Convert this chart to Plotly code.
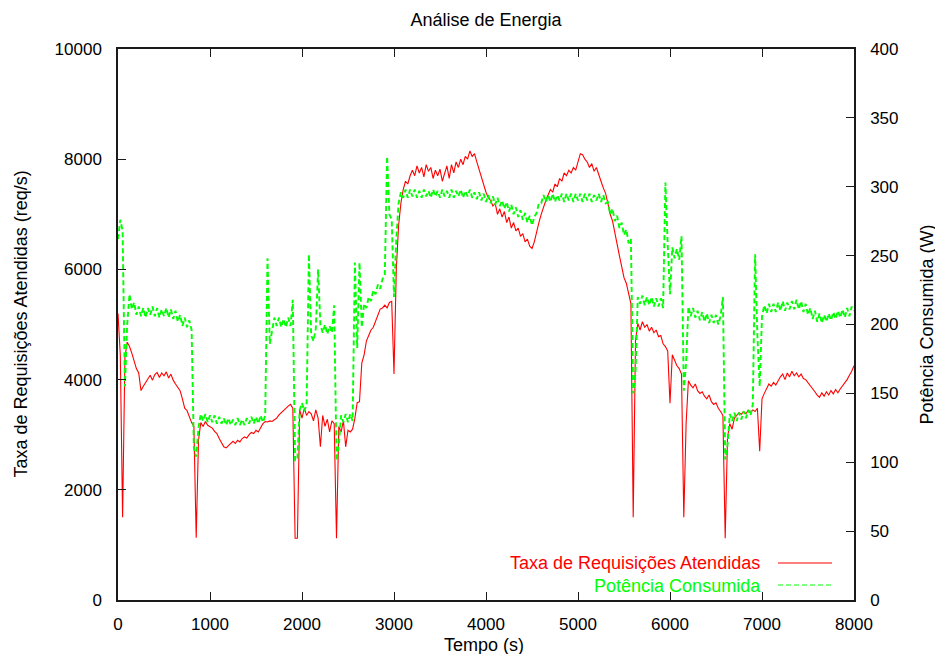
import plotly.graph_objects as go

# Sample times (s): one reading every 25 s from 0 to 8000
TIME_STEP_S = 25
tempo_s = list(range(0, 8001, TIME_STEP_S))

# Taxa de Requisições Atendidas (req/s)
taxa_req = [
    5200, 4450, 1500, 4400, 4680, 4600, 4480, 4350, 4200, 4120, 3800, 3880, 3950, 4020, 4080, 3990, 4090, 4130, 4040, 4120,
    4070, 4140, 4030, 4100, 3990, 3920, 3860, 3800, 3650, 3480, 3440, 3320, 3220, 3150, 1130, 2900, 3220, 3150, 3240, 3170,
    3150, 3120, 3060, 3020, 2930, 2860, 2780, 2760, 2800, 2830, 2880, 2840, 2900, 2870, 2930, 2960, 2940, 3000, 3040, 3020,
    3080, 3050, 3120, 3200, 3240, 3230, 3250, 3240, 3270, 3300, 3360, 3400, 3450, 3480, 3520, 3550, 3480, 1120, 1120, 3450,
    3300, 3480, 3350, 3420, 3380, 3250, 3450, 3300, 2780, 3350, 3150, 3280, 3050, 3250, 3200, 1120, 3150, 3050, 3250, 2780,
    3080, 3050, 3100, 3300, 3580, 3600, 4300, 4450, 4700, 4800, 4900, 4950, 5050, 5150, 5280, 5300, 5350, 5300, 5400, 5420,
    4100, 6000, 6800, 7200, 7450, 7600, 7550, 7700, 7800, 7700, 7880, 7750, 7850, 7680, 7900, 7780, 7850, 7650, 7800, 7700,
    7820, 7600, 7750, 7880, 7650, 7900, 7750, 7950, 7850, 8000, 7900, 8050, 8000, 8150, 8050, 8100, 7950, 7800, 7700, 7550,
    7400, 7300, 7250, 7150, 7200, 7000, 7100, 6950, 7050, 6850, 6950, 6750, 6850, 6700, 6750, 6600, 6650, 6500, 6550, 6420,
    6380, 6500, 6700, 6850, 7000, 7150, 7250, 7350, 7450, 7400, 7550, 7500, 7650, 7600, 7750, 7700, 7800, 7750, 7850, 7800,
    7950, 8100, 8080, 8000, 7950, 7850, 7920, 7780, 7850, 7700, 7600, 7480, 7380, 7200, 7000, 6880, 6650, 6450, 6250, 6050,
    5850, 5750, 5550, 5380, 1500, 4700, 5020, 4900, 5050, 4950, 5000, 4880, 4950, 4850, 4900, 4780, 4800, 4650, 4600, 4520,
    3570, 4450, 4350, 4250, 4200, 4100, 1500, 3200, 3980, 3900, 3850, 3920, 3800, 3750, 3780, 3700, 3650, 3720, 3600, 3550,
    3580, 3480, 3420, 3350, 1120, 2950, 3200, 3100, 3300, 3350, 3400, 3370, 3420, 3380, 3440, 3400, 3450, 3420, 3480, 2700,
    3650, 3750, 3850, 3920, 3880, 3950, 3900, 3980, 4050, 4100, 4000, 4120, 4050, 4150, 4070, 4120, 4050, 4100, 4020, 4000,
    3950, 3900, 3850, 3780, 3720, 3680, 3760, 3700, 3780, 3720, 3800, 3740, 3820, 3760, 3830, 3880, 3950, 4000, 4080, 4150,
    4250,
]

# Potência Consumida (W)
potencia_w = [
    262, 276, 268, 155, 200, 222, 211, 216, 207, 213, 206, 212, 205, 212, 207, 213, 206, 212, 205, 211,
    206, 212, 205, 211, 204, 210, 202, 207, 199, 205, 198, 203, 196, 110, 104, 125, 135, 130, 135, 129,
    134, 129, 134, 128, 133, 128, 132, 127, 132, 127, 131, 127, 132, 127, 131, 127, 132, 128, 133, 128,
    133, 128, 134, 129, 134, 248, 186, 196, 205, 199, 205, 198, 204, 198, 205, 199, 218, 101, 103, 138,
    143, 137, 142, 251, 192, 188, 197, 240, 200, 194, 200, 193, 199, 194, 214, 101, 112, 134, 129, 135,
    129, 135, 130, 245, 183, 245, 198, 215, 212, 220, 217, 225, 222, 229, 226, 233, 236, 322, 280, 276,
    220, 262, 288, 296, 292, 298, 292, 298, 293, 298, 292, 297, 292, 298, 293, 297, 292, 298, 293, 297,
    292, 298, 293, 297, 292, 298, 292, 297, 293, 298, 292, 297, 293, 298, 292, 296, 291, 296, 290, 295,
    289, 294, 288, 293, 287, 292, 286, 290, 284, 289, 282, 287, 280, 285, 278, 283, 276, 281, 274, 279,
    272, 278, 281, 288, 288, 294, 289, 294, 289, 295, 289, 294, 290, 295, 289, 295, 290, 295, 289, 295,
    290, 295, 289, 295, 290, 295, 289, 294, 290, 295, 289, 294, 288, 289, 280, 284, 275, 279, 270, 274,
    265, 269, 259, 262, 150, 165, 220, 215, 221, 214, 220, 214, 220, 213, 219, 213, 219, 212, 303, 258,
    222, 256, 248, 255, 247, 264, 152, 172, 213, 206, 212, 205, 210, 203, 209, 202, 208, 201, 207, 201,
    207, 200, 206, 220, 102, 112, 135, 130, 136, 130, 136, 131, 137, 132, 138, 134, 142, 251, 192, 155,
    206, 214, 208, 215, 209, 215, 209, 216, 210, 217, 210, 216, 211, 217, 211, 218, 211, 217, 209, 215,
    207, 212, 204, 210, 202, 208, 201, 207, 202, 208, 203, 209, 204, 210, 205, 211, 205, 212, 206, 213,
    210,
]

# Axis ticks
x_ticks = [0, 1000, 2000, 3000, 4000, 5000, 6000, 7000, 8000]
x_tick_labels = ["0", "1000", "2000", "3000", "4000", "5000", "6000", "7000", "8000"]
y1_ticks = [0, 2000, 4000, 6000, 8000, 10000]
y1_tick_labels = ["0", "2000", "4000", "6000", "8000", "10000"]
y2_ticks = [0, 50, 100, 150, 200, 250, 300, 350, 400]
y2_tick_labels = ["0", "50", "100", "150", "200", "250", "300", "350", "400"]

series_names = ["Taxa de Requisições Atendidas", "Potência Consumida"]

assert len(taxa_req) == len(tempo_s), len(taxa_req)
assert len(potencia_w) == len(tempo_s), len(potencia_w)

FONT = "Liberation Sans, Arial, Helvetica, sans-serif"
RED = "#ff0000"
GREEN = "#00ff00"
AXC = "#1a1a1a"
GREEN_DASH = "5px,3px"

fig = go.Figure()
fig.add_trace(go.Scatter(
    x=tempo_s, y=taxa_req, mode="lines", name=series_names[0],
    line=dict(color=RED, width=1.1), yaxis="y", showlegend=False,
))
fig.add_trace(go.Scatter(
    x=tempo_s, y=potencia_w, mode="lines", name=series_names[1],
    line=dict(color=GREEN, width=1.9, dash=GREEN_DASH), yaxis="y2", showlegend=False,
))

L, R, T, B = 118, 81, 49, 54
W, H = 935, 654
pw, ph = W - L - R, H - T - B

def px_x(px):
    return (px - L) / pw

def px_y(py):
    return (H - B - py) / ph

axis_common = dict(
    showgrid=False, zeroline=False, showline=True, linecolor=AXC, linewidth=1.5,
    ticks="inside", ticklen=8, tickwidth=1, tickcolor=AXC,
    tickfont=dict(family=FONT, size=17, color="black"),
)

fig.update_layout(
    width=W, height=H,
    margin=dict(l=L, r=R, t=T, b=B, autoexpand=False),
    paper_bgcolor="white", plot_bgcolor="white",
    font=dict(family=FONT, color="black"),
    title=dict(text="Análise de Energia", x=px_x(486), xref="paper", xanchor="center",
               y=1 - 20 / H, yref="container", yanchor="middle",
               font=dict(family=FONT, size=18, color="black")),
    xaxis=dict(range=[0, 8000], tickvals=x_ticks, ticktext=x_tick_labels, mirror="ticks",
               ticklabelstandoff=8, **axis_common),
    yaxis=dict(range=[0, 10000], tickvals=y1_ticks, ticktext=y1_tick_labels,
               ticklabelstandoff=11, **axis_common),
    yaxis2=dict(range=[0, 400], tickvals=y2_ticks, ticktext=y2_tick_labels,
                overlaying="y", side="right", ticklabelstandoff=11, **axis_common),
    showlegend=False,
)

# Axis titles
fig.add_annotation(text="Taxa de Requisições Atendidas (req/s)", xref="paper", yref="paper",
                   x=px_x(20), y=0.5, textangle=-90, showarrow=False,
                   xanchor="center", yanchor="middle", font=dict(family=FONT, size=18, color="black"))
fig.add_annotation(text="Potência Consumida (W)", xref="paper", yref="paper",
                   x=px_x(926), y=0.5, textangle=-90, showarrow=False,
                   xanchor="center", yanchor="middle", font=dict(family=FONT, size=18, color="black"))
fig.add_annotation(text="Tempo (s)", xref="paper", yref="paper",
                   x=px_x(484), y=px_y(645), showarrow=False,
                   xanchor="center", yanchor="middle", font=dict(family=FONT, size=18, color="black"))

# Legend (gnuplot style: text right-aligned, sample line after) as one two-line text
legend_text = (f"<span style='color:{RED}'>{series_names[0]}</span><br>"
               f"<span style='color:{GREEN}'>{series_names[1]}</span>")
fig.add_annotation(text=legend_text, xref="paper", yref="paper", x=px_x(763), y=px_y(574),
                   xanchor="right", yanchor="middle", align="right", showarrow=False,
                   font=dict(family=FONT, size=18, color="black"))
for color, dash, py in [(RED, "solid", 563), (GREEN, GREEN_DASH, 585)]:
    fig.add_shape(type="line", xref="paper", yref="paper",
                  x0=px_x(778), x1=px_x(832), y0=px_y(py), y1=px_y(py),
                  line=dict(color=color, width=1, dash=dash))

fig.write_html("out.html", config={"displayModeBar": False},
               post_script="document.body.style.margin='0';document.body.style.overflow='hidden';")
